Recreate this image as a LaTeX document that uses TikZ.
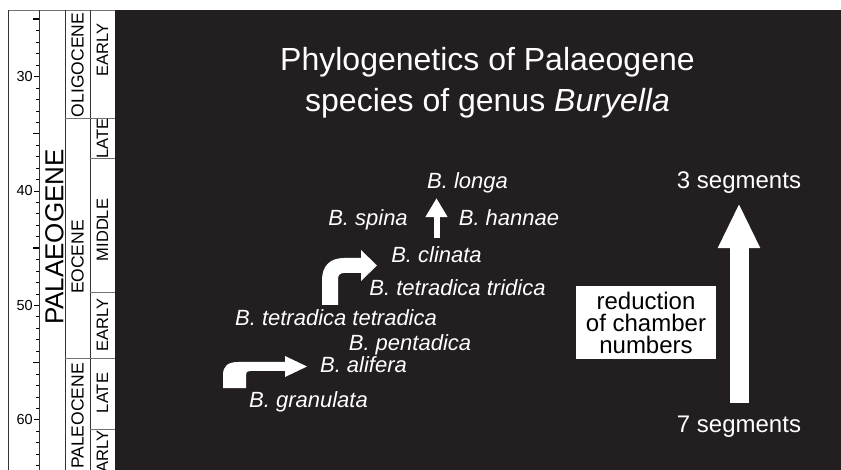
\documentclass[tikz,border=0pt]{standalone}
\usepackage{fontspec}
\setmainfont{Liberation Sans}
\usepackage{xcolor}
\usetikzlibrary{arrows.meta}
\definecolor{bgdark}{HTML}{231F20}

\begin{document}
\begin{tikzpicture}[x=1pt, y=-1pt,
    species/.style={text=white, font=\fontsize{22}{26}\selectfont\itshape, anchor=base, inner sep=0pt},
    segtext/.style={text=white, font=\fontsize{24}{28}\selectfont, anchor=base, inner sep=0pt},
    titletext/.style={text=white, font=\fontsize{32}{40}\selectfont, anchor=base, inner sep=0pt},
    agelab/.style={anchor=east, font=\fontsize{14.5}{15}\selectfont, inner sep=0.5pt},
    epochlab/.style={rotate=90, font=\fontsize{17.5}{17.5}\selectfont, inner sep=0pt},
    stagelab/.style={rotate=90, font=\fontsize{16.5}{16.5}\selectfont, inner sep=0pt},
    colline/.style={black!80, line width=0.8pt},
    bound/.style={black!55, line width=0.7pt},
    blockarrow/.style={fill=white, draw=none}]
\useasboundingbox (0,0) rectangle (841,470);
\fill[white] (0,0) rectangle (841,470);
\fill[bgdark] (115,10) rectangle (841,470);

% time scale
\draw[bound] (8,10) -- (115,10);
\foreach \x in {8,39,65,90}{
    \draw[colline] (\x,10) -- (\x,470);
}
\foreach \a in {25,...,64}{
    \pgfmathsetmacro{\ty}{19.3+(\a-25)*11.44}
    \pgfmathtruncatemacro{\r}{mod(\a,5)}
    \pgfmathtruncatemacro{\s}{mod(\a,10)}
    \ifnum\r=0
        \ifnum\s=0
            \draw[line width=0.6pt] (39,\ty) -- (34,\ty);
            \node[agelab] (age\a) at (33.5,\ty) {\a};
        \else
            \draw[line width=1.6pt] (39,\ty) -- (33,\ty);
        \fi
    \else
        \draw[line width=0.6pt] (39,\ty) -- (36,\ty);
    \fi
}
\draw[bound] (65,118.5) -- (115,118.5);
\draw[bound] (65,358.5) -- (115,358.5);
\foreach \ty in {158,292,429}{
    \draw[bound] (90,\ty) -- (115,\ty);
}
\node[rotate=90, font=\fontsize{26}{26}\selectfont, inner sep=0pt] (palaeogene) at (54.5,237) {PALAEOGENE};
\node[epochlab] (oligocene) at (77.5,65) {OLIGOCENE};
\node[epochlab] (eocene) at (77.5,257) {EOCENE};
\node[epochlab] (paleocene) at (77.5,416) {PALEOCENE};
\node[stagelab] (olearly) at (102.5,50) {EARLY};
\node[stagelab] (eolate) at (102.5,138.5) {LATE};
\node[stagelab] (eomiddle) at (102.5,230) {MIDDLE};
\node[stagelab] (eoearly) at (102.5,325) {EARLY};
\node[stagelab] (palate) at (102.5,393) {LATE};
\node[stagelab] (paearly) at (102.5,457) {EARLY};

% title
\node[titletext] (title1) at (487.5,71) {Phylogenetics of Palaeogene};
\node[titletext] (title2) at (487.5,112) {species of genus \textit{Buryella}};

% species
\node[species] (longa) at (467.5,189) {B. longa};
\node[species] (spina) at (368,226) {B. spina};
\node[species] (hannae) at (509,226) {B. hannae};
\node[species] (clinata) at (436.5,263) {B. clinata};
\node[species] (tridica) at (457.5,296) {B. tetradica tridica};
\node[species] (tetradica) at (336,326) {B. tetradica tetradica};
\node[species] (pentadica) at (410,351) {B. pentadica};
\node[species] (alifera) at (363.5,373) {B. alifera};
\node[species] (granulata) at (308.5,407) {B. granulata};

\draw[white, line width=6pt, -{Triangle[width=21pt,length=19pt]}, shorten <=9pt, shorten >=4.4pt]
    (clinata.north) -- (clinata.north |- longa.south);
\fill[blockarrow] (223,388) -- (223,375) .. controls (223,366) and (228,362) .. (238,362)
    -- (285,362) -- (285,356) -- (307,366.5) -- (285,377) -- (285,371) -- (250,371)
    .. controls (247,371) and (246,372) .. (246,375) -- (246,388) -- cycle;
\fill[blockarrow] (322,305) -- (322,280) .. controls (322,266) and (330,258) .. (344,258)
    -- (361,258) -- (361,250) -- (377,265.5) -- (361,281) -- (361,273) -- (344,273)
    .. controls (340,273) and (338,275) .. (338,279) -- (338,305) -- cycle;

% chamber numbers
\node[segtext] (three) at (739,189) {3 segments};
\node[segtext] (seven) at (739,432) {7 segments};
\draw[white, line width=19pt, -{Triangle[width=39pt,length=45pt]}, shorten <=12.5pt, shorten >=9pt]
    (seven.north) -- (three.south);
\node[fill=white, minimum width=140pt, minimum height=73pt, align=center,
    font=\fontsize{24}{22}\selectfont, inner sep=0pt] (reduction) at (646,322.5)
    {reduction\\of chamber\\numbers};
\end{tikzpicture}
\end{document}
